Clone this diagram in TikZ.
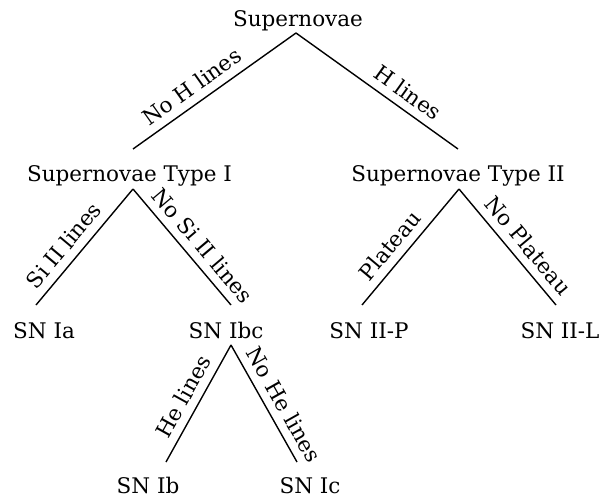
\documentclass[tikz,border=0pt]{standalone}
\usepackage{fontspec}
\setmainfont{DejaVu Serif}
\begin{document}
\begin{tikzpicture}[x=1pt,y=-1pt,
  font=\fontsize{21.5}{26}\selectfont,
  txt/.style={inner sep=0pt, anchor=base},
  branch/.style={line width=1.4pt, black},
  elbl/.style={sloped, above=7pt, pos=0.58, inner sep=1pt}]
\useasboundingbox (0,0) rectangle (603,500);
% nodes
\node[txt] (sn)  at (298,27)  {Supernovae};
\node[txt] (t1)  at (129.5,182) {Supernovae Type I};
\node[txt] (t2)  at (458,182) {Supernovae Type II};
\node[txt] (ia)  at (44,338)  {SN Ia};
\node[txt] (ibc) at (226,338) {SN Ibc};
\node[txt] (iip) at (369,338) {SN II-P};
\node[txt] (iil) at (560,338) {SN II-L};
\node[txt] (ib)  at (148,493) {SN Ib};
\node[txt] (ic)  at (310,493) {SN Ic};
% edge anchor points
\coordinate (snB)  at (296,33);
\coordinate (t1T)  at (133,149);
\coordinate (t2T)  at (458,149);
\coordinate (t1B)  at (133,189);
\coordinate (t2B)  at (459,189);
\coordinate (iaT)  at (36,305);
\coordinate (ibcT) at (231,305);
\coordinate (iipT) at (362,305);
\coordinate (iilT) at (556,305);
\coordinate (ibcB) at (231,345);
\coordinate (ibT)  at (166,462);
\coordinate (icT)  at (297,462);
% edges
\draw[branch] (snB) -- node[elbl]{No H lines} (t1T);
\draw[branch] (snB) -- node[elbl, pos=0.63]{H lines} (t2T);
\draw[branch] (t1B) -- node[elbl]{Si II lines} (iaT);
\draw[branch] (t1B) -- node[elbl]{No Si II lines} (ibcT);
\draw[branch] (t2B) -- node[elbl]{Plateau} (iipT);
\draw[branch] (t2B) -- node[elbl]{No Plateau} (iilT);
\draw[branch] (ibcB) -- node[elbl, pos=0.51]{He lines} (ibT);
\draw[branch] (ibcB) -- node[elbl]{No He lines} (icT);
\end{tikzpicture}
\end{document}
